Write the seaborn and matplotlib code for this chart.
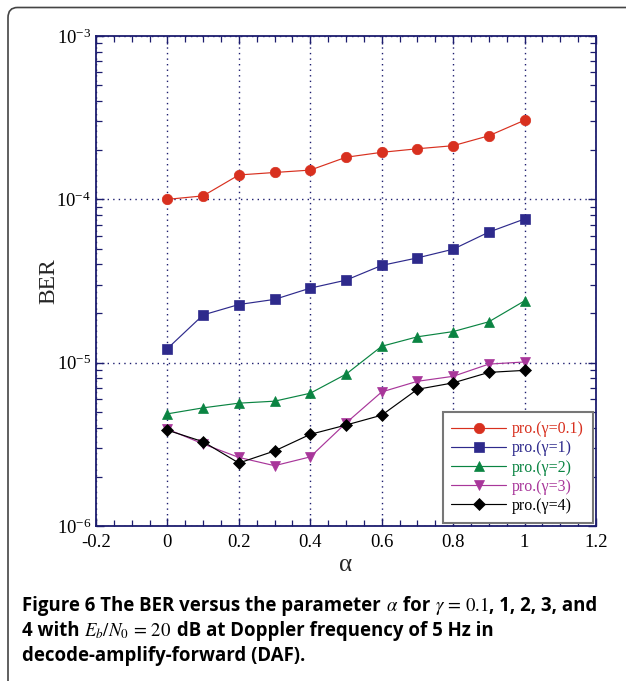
import matplotlib
matplotlib.use("Agg")
import matplotlib.pyplot as plt
import matplotlib.ticker as mticker
from matplotlib.patches import FancyBboxPatch
import numpy as np
import pandas as pd
import seaborn as sns

# --- data ---
alpha = [0.0, 0.1, 0.2, 0.3, 0.4, 0.5, 0.6, 0.7, 0.8, 0.9, 1.0]
ber_g01 = [1.00e-4, 1.05e-4, 1.41e-4, 1.46e-4, 1.51e-4, 1.81e-4, 1.94e-4, 2.04e-4, 2.13e-4, 2.45e-4, 3.05e-4]
ber_g1 = [1.22e-5, 1.96e-5, 2.27e-5, 2.44e-5, 2.86e-5, 3.20e-5, 3.94e-5, 4.38e-5, 4.95e-5, 6.30e-5, 7.58e-5]
ber_g2 = [4.86e-6, 5.29e-6, 5.65e-6, 5.81e-6, 6.50e-6, 8.50e-6, 1.26e-5, 1.44e-5, 1.55e-5, 1.78e-5, 2.39e-5]
ber_g3 = [3.92e-6, 3.18e-6, 2.63e-6, 2.34e-6, 2.65e-6, 4.27e-6, 6.62e-6, 7.69e-6, 8.25e-6, 9.80e-6, 1.01e-5]
ber_g4 = [3.86e-6, 3.28e-6, 2.43e-6, 2.88e-6, 3.64e-6, 4.15e-6, 4.77e-6, 6.87e-6, 7.52e-6, 8.72e-6, 8.97e-6]

labels = ["pro.(γ=0.1)", "pro.(γ=1)", "pro.(γ=2)", "pro.(γ=3)", "pro.(γ=4)"]
series = [ber_g01, ber_g1, ber_g2, ber_g3, ber_g4]
colors = ["#d8301f", "#2e2a8c", "#0a8442", "#a8369a", "#000000"]
markers = ["o", "s", "^", "v", "D"]

x_ticks = [-0.2, 0, 0.2, 0.4, 0.6, 0.8, 1, 1.2]
x_tick_labels = ["-0.2", "0", "0.2", "0.4", "0.6", "0.8", "1", "1.2"]

caption_lines = [
    [(r"Figure 6 The BER versus the parameter ", "b"), (r"$\alpha$", "m"), (" for ", "b"),
     (r"$\gamma\,=\,0.1$", "m"), (", 1, 2, 3, and", "b")],
    [("4 with ", "b"), (r"$E_b/N_0\,=\,20$", "m"), (" dB at Doppler frequency of 5 Hz in", "b")],
    [("decode-amplify-forward (DAF).", "b")],
]

sns.set_style("ticks")
plt.rcParams["font.family"] = ["Liberation Serif", "DejaVu Serif"]
plt.rcParams["mathtext.fontset"] = "stix"
plt.rcParams["axes.unicode_minus"] = False

navy = "#1c1c6e"

fig = plt.figure(figsize=(6.26, 6.81), dpi=100)
ax = fig.add_axes([96 / 626, 1 - 526 / 681, 500 / 626, 490 / 681])

rows = []
for lab, vals in zip(labels, series):
    for a, v in zip(alpha, vals):
        rows.append({"alpha": a, "BER": v, "curve": lab})
df = pd.DataFrame(rows)

for lab, col, mk in zip(labels, colors, markers):
    sub = df[df["curve"] == lab]
    sns.lineplot(data=sub, x="alpha", y="BER", ax=ax, color=col, marker=mk,
                 markersize=7.5 if mk != "D" else 6.5, markeredgewidth=0.5,
                 markeredgecolor=col, linewidth=0.85, label=lab)

ax.set_yscale("log")
ax.set_xlim(-0.2, 1.2)
ax.set_ylim(1e-6, 1e-3)
ax.set_xticks(x_ticks)
ax.set_xticklabels(x_tick_labels)
ax.xaxis.set_minor_locator(mticker.MultipleLocator(0.05))
ax.yaxis.set_major_locator(mticker.LogLocator(base=10, numticks=10))
ax.yaxis.set_minor_locator(mticker.LogLocator(base=10, subs=np.arange(2, 10), numticks=10))
ax.yaxis.set_minor_formatter(mticker.NullFormatter())

ax.grid(True, which="major", color=navy, linestyle=(0, (1, 3)), linewidth=1.0)
for sp in ax.spines.values():
    sp.set_visible(True)
    sp.set_color(navy)
    sp.set_linewidth(1.3)
ax.tick_params(which="both", direction="in", top=True, right=True, color=navy,
               labelsize=13.5, labelcolor="black")
ax.tick_params(which="major", length=6, width=1.0)
ax.tick_params(which="minor", length=4, width=0.9)
ax.tick_params(axis="x", pad=6)

ax.set_xlabel("α", fontsize=18, labelpad=2)
ax.set_ylabel("BER", fontsize=17, labelpad=-2)

leg = ax.legend(loc="lower right", fontsize=11.5, frameon=True, fancybox=False,
                edgecolor="#777777", framealpha=1, handlelength=3.4, handletextpad=0.4,
                labelspacing=0.2, borderpad=0.55, borderaxespad=0.2)
leg.get_frame().set_linewidth(1.5)
for txt, col in zip(leg.get_texts(), colors):
    txt.set_color(col)

# outer rounded border of the figure panel
border = FancyBboxPatch((8 / 626, -0.05), 1.2, 1 - 7.5 / 681 + 0.05,
                        boxstyle="round,pad=0,rounding_size=0.015",
                        transform=fig.transFigure, fill=False,
                        edgecolor="#444444", linewidth=1.2, clip_on=False)
fig.patches.append(border)

# caption
cap_size = 13.4
math_size = 13.5
line_y = [1 - 611 / 681, 1 - 636 / 681, 1 - 661 / 681]
fig.canvas.draw()
renderer = fig.canvas.get_renderer()
for y, parts in zip(line_y, caption_lines):
    x = 22 / 626
    for s, kind in parts:
        if kind == "m":
            t = fig.text(x, y, s, fontsize=math_size, color="black",
                         family=["Open Sans", "DejaVu Sans"], va="baseline")
        else:
            t = fig.text(x, y, s, fontsize=cap_size, color="black", weight="bold",
                         family=["Open Sans", "DejaVu Sans"], va="baseline")
        bb = t.get_window_extent(renderer=renderer)
        x += bb.width / fig.bbox.width

fig.savefig("out.png", dpi=100)
